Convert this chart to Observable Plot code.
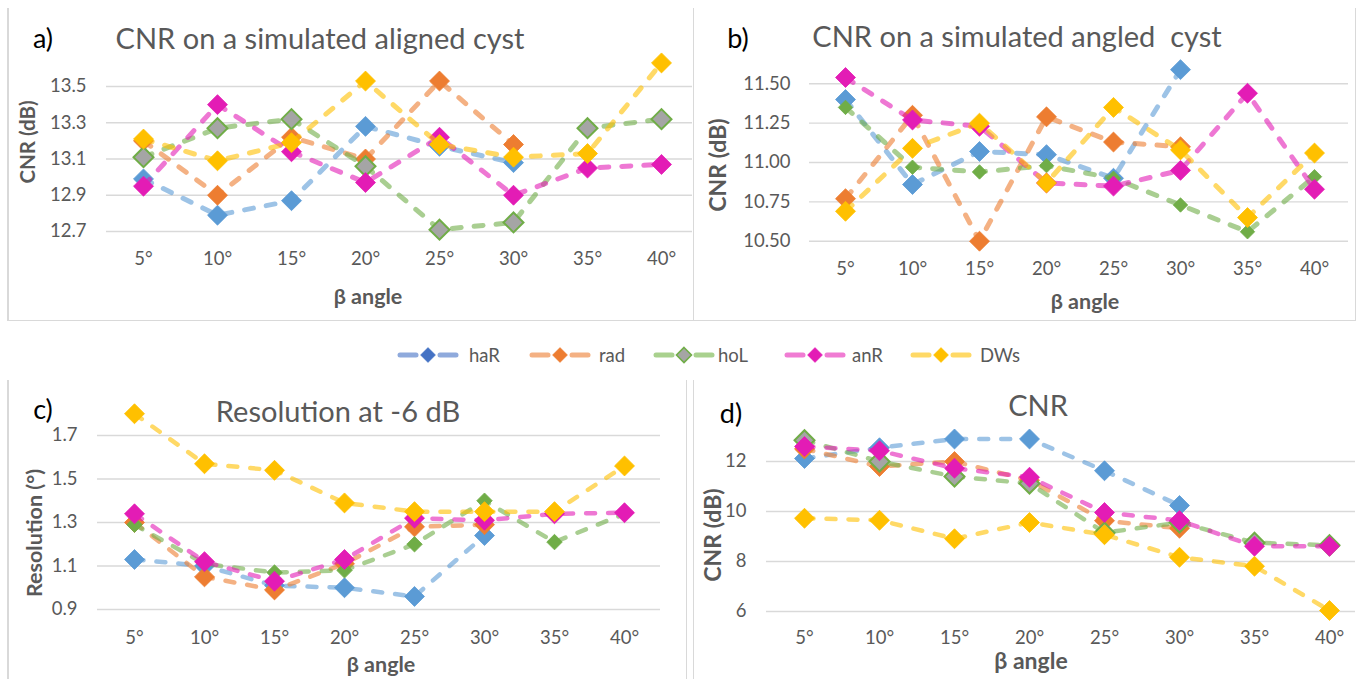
<!DOCTYPE html>
<html>
<head>
<meta charset="utf-8">
<script src="https://cdn.jsdelivr.net/npm/d3@7"></script>
<script src="https://cdn.jsdelivr.net/npm/@observablehq/plot@0.6"></script>
<style>
  html, body { margin: 0; padding: 0; background: #fff; }
  #root { position: relative; width: 1359px; height: 679px; overflow: hidden; font-family: Lato, "Open Sans", sans-serif; }
  .abs { position: absolute; white-space: pre; transform: translate(-50%, -50%); line-height: 1; }
  .rot { transform: translate(-50%, -50%) rotate(-90deg); }
  .ptitle { color: #595959; font-size: 29px; }
  .plabel { color: #000; font-size: 27px; }
  .atitle { color: #595959; font-weight: bold; font-size: 22px; }
  .bl { position: absolute; background: #d9d9d9; }
  .panel { position: absolute; }
  .panel svg { display: block; overflow: visible; }
  .leg { position: absolute; color: #595959; font-size: 18.5px; line-height: 1; transform: translateY(-50%); }
</style>
</head>
<body>
<div id="root"></div>
<script>
// ---------- data ----------
const angleLabels = ["5°", "10°", "15°", "20°", "25°", "30°", "35°", "40°"];
const seriesNames = ["haR", "rad", "hoL", "anR", "DWs"];

const ticksAligned = [12.7, 12.9, 13.1, 13.3, 13.5];
const ticksAngled = [10.5, 10.75, 11.0, 11.25, 11.5];
const ticksResolution = [0.9, 1.1, 1.3, 1.5, 1.7];
const ticksCnr = [6, 8, 10, 12];

// a) CNR on a simulated aligned cyst
const alignedHaR = [12.99, 12.79, 12.87, 13.28, 13.17, 13.08, null, null];
const alignedRad = [13.20, 12.90, 13.22, 13.10, 13.53, 13.18, null, null];
const alignedHoL = [13.11, 13.27, 13.32, 13.06, 12.71, 12.75, 13.27, 13.32];
const alignedAnR = [12.95, 13.40, 13.14, 12.97, 13.22, 12.90, 13.05, 13.07];
const alignedDWs = [13.21, 13.09, 13.19, 13.53, 13.18, 13.11, 13.13, 13.63];

// b) CNR on a simulated angled cyst
const angledHaR = [11.40, 10.86, 11.07, 11.05, 10.90, 11.59, null, null];
const angledRad = [10.77, 11.30, 10.50, 11.29, 11.13, 11.10, null, null];
const angledHoL = [11.35, 10.97, 10.94, 10.98, 10.90, 10.73, 10.56, 10.91];
const angledAnR = [11.54, 11.27, 11.23, 10.87, 10.85, 10.95, 11.44, 10.83];
const angledDWs = [10.69, 11.09, 11.25, 10.87, 11.35, 11.08, 10.65, 11.06];

// c) Resolution at -6 dB
const resolutionHaR = [1.13, 1.10, 1.01, 1.00, 0.96, 1.24, null, null];
const resolutionRad = [1.30, 1.05, 0.99, 1.11, 1.28, 1.29, null, null];
const resolutionHoL = [1.29, 1.11, 1.07, 1.08, 1.20, 1.40, 1.21, 1.34];
const resolutionAnR = [1.34, 1.12, 1.03, 1.13, 1.32, 1.31, 1.34, 1.345];
const resolutionDWs = [1.80, 1.57, 1.54, 1.39, 1.35, 1.35, 1.35, 1.56];

// d) CNR
const cnrHaR = [12.12, 12.55, 12.90, 12.90, 11.63, 10.24, null, null];
const cnrRad = [12.50, 11.80, 12.00, 11.25, 9.63, 9.33, null, null];
const cnrHoL = [12.85, 12.00, 11.40, 11.12, 9.15, 9.56, 8.75, 8.65];
const cnrAnR = [12.60, 12.43, 11.73, 11.37, 9.96, 9.64, 8.61, 8.61];
const cnrDWs = [9.73, 9.65, 8.91, 9.56, 9.07, 8.17, 7.81, 6.04];

// ---------- styles ----------
const seriesStyle = {
  haR: {marker: "#5B9BD5", line: "#5B9BD5", legMarker: "#4472C4", legLine: "#8FAADC"},
  rad: {marker: "#ED7D31", line: "#ED7D31", legMarker: "#ED7D31", legLine: "#F4B183"},
  hoL: {marker: "#70AD47", line: "#70AD47", legMarker: "#A5A5A5", legLine: "#A9D18E", legStroke: "#70AD47"},
  anR: {marker: "#E31CB5", line: "#E31CB5", legMarker: "#E31CB5", legLine: "#F07CD3"},
  DWs: {marker: "#FFC000", line: "#FFC000", legMarker: "#FFC000", legLine: "#FFD966"}
};

const panels = [
  {
    id: "a", series: [alignedHaR, alignedRad, alignedHoL, alignedAnR, alignedDWs],
    yTicks: ticksAligned, yDomain: [12.7, 13.65], yFmt: d => d.toFixed(1),
    box: {left: 7, top: 8, width: 686, height: 312},
    frame: {left: 106, right: 692}, cal: {v0: 12.7, px0: 231, v1: 13.5, px1: 86},
    x5: 143, x40: 661, yPad: 20, xPad: 20.5, lineWidth: 5, hoLGray: true, greenR: 9
  },
  {
    id: "b", series: [angledHaR, angledRad, angledHoL, angledAnR, angledDWs],
    yTicks: ticksAngled, yDomain: [10.5, 11.65], yFmt: d => d.toFixed(2),
    box: {left: 693, top: 8, width: 662, height: 312},
    frame: {left: 809, right: 1348}, cal: {v0: 10.5, px0: 240.7, v1: 11.5, px1: 83.3},
    x5: 845, x40: 1314, yPad: 19, xPad: 20.5, lineWidth: 5, hoLGray: false, greenR: 6.5
  },
  {
    id: "c", series: [resolutionHaR, resolutionRad, resolutionHoL, resolutionAnR, resolutionDWs],
    yTicks: ticksResolution, yDomain: [0.9, 1.8], yFmt: d => d.toFixed(1),
    box: {left: 7, top: 380, width: 679, height: 299},
    frame: {left: 97, right: 660}, cal: {v0: 0.9, px0: 609, v1: 1.7, px1: 435},
    x5: 133, x40: 625, yPad: 20, xPad: 21.5, lineWidth: 4.5, hoLGray: false, greenR: 7
  },
  {
    id: "d", series: [cnrHaR, cnrRad, cnrHoL, cnrAnR, cnrDWs],
    yTicks: ticksCnr, yDomain: [6, 13.4], yFmt: d => d.toFixed(0),
    box: {left: 693, top: 380, width: 666, height: 299},
    frame: {left: 766, right: 1355}, cal: {v0: 6, px0: 611, v1: 12, px1: 461},
    x5: 803, x40: 1330, yPad: 20, xPad: 19.5, lineWidth: 4.5, hoLGray: true, greenR: 9
  }
];

const texts = [
  {t: "a)", cls: "plabel", x: 43, y: 37},
  {t: "CNR on a simulated aligned cyst", cls: "ptitle", x: 320, y: 37},
  {t: "b)", cls: "plabel", x: 738, y: 37},
  {t: "CNR on a simulated angled  cyst", cls: "ptitle", x: 1017, y: 35},
  {t: "c)", cls: "plabel", x: 43, y: 408},
  {t: "Resolution at -6 dB", cls: "ptitle", x: 338, y: 410},
  {t: "d)", cls: "plabel", x: 731, y: 412},
  {t: "CNR", cls: "ptitle", x: 1038, y: 404},
  {t: "CNR (dB)", cls: "atitle rot", x: 27, y: 142, fs: 20.5},
  {t: "CNR (dB)", cls: "atitle rot", x: 717, y: 165, fs: 23},
  {t: "Resolution (°)", cls: "atitle rot", x: 35, y: 533, fs: 21.5},
  {t: "CNR (dB)", cls: "atitle rot", x: 712, y: 535, fs: 23},
  {t: "β angle", cls: "atitle", x: 368, y: 297, fs: 21.5},
  {t: "β angle", cls: "atitle", x: 1085, y: 302, fs: 21.5},
  {t: "β angle", cls: "atitle", x: 381, y: 665, fs: 21.5},
  {t: "β angle", cls: "atitle", x: 1031, y: 660, fs: 23}
];

const borders = [
  [7, 8, 1.5, 312], [692.5, 8, 1.5, 312], [1354.5, 8, 1.5, 312], [7, 319.5, 1349, 1.5],
  [7, 380, 1.5, 299], [685.5, 380, 1.5, 299], [692.5, 380, 1.5, 299]
];

const legendItems = [
  {s: "haR", cx: 428, tx: 469},
  {s: "rad", cx: 560, tx: 599},
  {s: "hoL", cx: 684, tx: 718},
  {s: "anR", cx: 815, tx: 852},
  {s: "DWs", cx: 941, tx: 980}
];
const legendY = 355;

// ---------- build ----------
const root = document.getElementById("root");

for (const [l, t, w, h] of borders) {
  const d = document.createElement("div");
  d.className = "bl";
  Object.assign(d.style, {left: l + "px", top: t + "px", width: w + "px", height: h + "px"});
  root.appendChild(d);
}

function buildPanel(cfg) {
  const rows = [];
  cfg.series.forEach((vals, si) => vals.forEach((v, i) => {
    if (v != null) rows.push({series: seriesNames[si], angle: angleLabels[i], value: v});
  }));
  const k = (cfg.cal.px0 - cfg.cal.px1) / (cfg.cal.v1 - cfg.cal.v0);
  const bottomAbs = cfg.cal.px0 + (cfg.cal.v0 - cfg.yDomain[0]) * k;
  const topAbs = cfg.cal.px0 - (cfg.yDomain[1] - cfg.cal.v0) * k;
  const b = cfg.box;
  const marks = [
    Plot.ruleY(cfg.yTicks, {stroke: "#d9d9d9", strokeWidth: 1.4}),
    Plot.axisY({ticks: cfg.yTicks, tickSize: 0, tickPadding: cfg.yPad, tickFormat: cfg.yFmt, label: null}),
    Plot.axisX({tickSize: 0, tickPadding: cfg.xPad, label: null})
  ];
  for (const s of seriesNames) {
    const d = rows.filter(r => r.series === s);
    const st = seriesStyle[s];
    marks.push(Plot.line(d, {
      x: "angle", y: "value", stroke: st.line, strokeOpacity: 0.6, strokeWidth: cfg.lineWidth,
      strokeDasharray: "9,13", strokeLinecap: "round", strokeLinejoin: "round"
    }));
    let dotOpts = {x: "angle", y: "value", symbol: "diamond2", r: 9, fill: st.marker, stroke: st.marker, strokeWidth: 0.8};
    if (s === "hoL") {
      dotOpts = cfg.hoLGray
        ? {x: "angle", y: "value", symbol: "diamond2", r: cfg.greenR, fill: "#A5A5A5", stroke: "#70AD47", strokeWidth: 2}
        : {x: "angle", y: "value", symbol: "diamond2", r: cfg.greenR, fill: st.marker, stroke: st.marker, strokeWidth: 0.8};
    }
    marks.push(Plot.dot(d, dotOpts));
  }
  const svg = Plot.plot({
    width: b.width,
    height: b.height,
    marginLeft: cfg.frame.left - b.left,
    marginRight: b.left + b.width - cfg.frame.right,
    marginTop: topAbs - b.top,
    marginBottom: b.top + b.height - bottomAbs,
    x: {type: "point", domain: angleLabels, padding: 0, insetLeft: cfg.x5 - cfg.frame.left, insetRight: cfg.frame.right - cfg.x40},
    y: {domain: cfg.yDomain},
    style: {fontFamily: "Lato, 'Open Sans', sans-serif", fontSize: "18.5px", color: "#595959", background: "transparent", overflow: "visible"},
    marks
  });
  const wrap = document.createElement("div");
  wrap.className = "panel";
  Object.assign(wrap.style, {left: b.left + "px", top: b.top + "px", width: b.width + "px", height: b.height + "px"});
  wrap.appendChild(svg);
  root.appendChild(wrap);
}

panels.forEach(buildPanel);

for (const t of texts) {
  const d = document.createElement("div");
  d.className = "abs " + t.cls;
  d.textContent = t.t;
  Object.assign(d.style, {left: t.x + "px", top: t.y + "px"});
  if (t.fs) d.style.fontSize = t.fs + "px";
  root.appendChild(d);
}

// legend
const NS = "http://www.w3.org/2000/svg";
for (const it of legendItems) {
  const st = seriesStyle[it.s];
  const svg = document.createElementNS(NS, "svg");
  svg.setAttribute("width", 64);
  svg.setAttribute("height", 20);
  Object.assign(svg.style, {position: "absolute", left: (it.cx - 32) + "px", top: (legendY - 10) + "px"});
  const segs = [[4, 20], [44, 60]];
  for (const [x1, x2] of segs) {
    const ln = document.createElementNS(NS, "line");
    ln.setAttribute("x1", x1); ln.setAttribute("x2", x2);
    ln.setAttribute("y1", 10); ln.setAttribute("y2", 10);
    ln.setAttribute("stroke", st.legLine);
    ln.setAttribute("stroke-width", 5);
    ln.setAttribute("stroke-linecap", "round");
    svg.appendChild(ln);
  }
  const p = document.createElementNS(NS, "path");
  p.setAttribute("d", "M32,2.5L39.5,10L32,17.5L24.5,10Z");
  p.setAttribute("fill", st.legMarker);
  p.setAttribute("stroke", st.legStroke || st.legMarker);
  p.setAttribute("stroke-width", st.legStroke ? 1.6 : 0.5);
  svg.appendChild(p);
  root.appendChild(svg);
  const tx = document.createElement("div");
  tx.className = "leg";
  tx.textContent = it.s;
  Object.assign(tx.style, {left: it.tx + "px", top: legendY + "px"});
  root.appendChild(tx);
}
</script>
</body>
</html>
